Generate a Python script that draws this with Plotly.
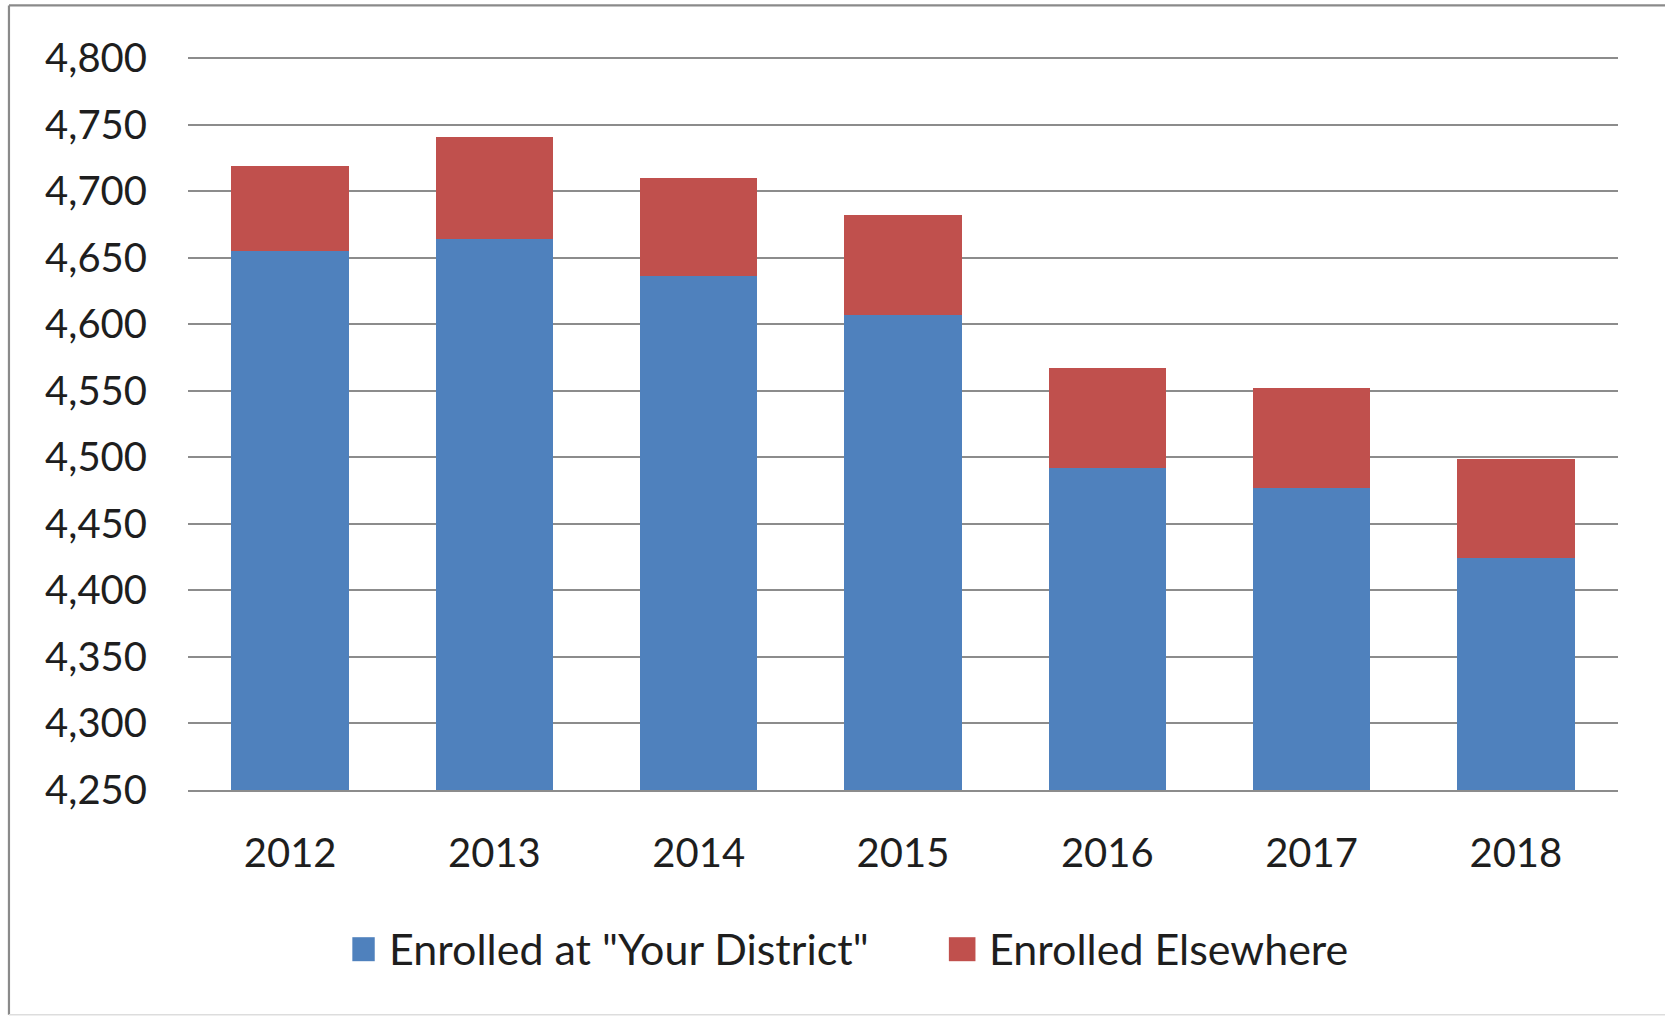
import plotly.graph_objects as go

years = ["2012", "2013", "2014", "2015", "2016", "2017", "2018"]
district = [4655, 4664, 4636, 4607, 4492, 4477, 4424]
elsewhere = [64, 77, 74, 75, 75, 75, 75]
y_ticks = [4250, 4300, 4350, 4400, 4450, 4500, 4550, 4600, 4650, 4700, 4750, 4800]
series_names = ['Enrolled at "Your District"', "Enrolled Elsewhere"]

BLUE = "#4F81BD"
RED = "#C0504D"
FONT = "Lato"
TXT = "#1e1e1e"
GRID = "#8c8c8c"

fig = go.Figure()
fig.add_trace(go.Bar(x=years, y=district, name=series_names[0],
                     marker=dict(color=BLUE, line=dict(width=0))))
fig.add_trace(go.Bar(x=years, y=elsewhere, name=series_names[1],
                     marker=dict(color=RED, line=dict(width=0))))

# pixel geometry: 4800 gridline at y=58.3, 4250 gridline at y=790.3
Y_LO, Y_HI, PAD = 4250, 4800, 3
scale = (790.3 - 58.3) / (Y_HI - Y_LO)
L, R = 188.3, 1618.0
T = 58.3 - PAD * scale
B = 790.3
W, H = 1665, 1016
pw, ph = R - L, B - T

def px(x):
    return (x - L) / pw

def py(y):
    return (B - y) / ph

legend_items = [
    (series_names[0], BLUE, 352.6, 375.0, 387.7),
    (series_names[1], RED, 949.0, 975.6, 987.5),
]
shapes = [
    dict(type="line", xref="paper", yref="paper", x0=px(9.3), x1=px(1670), y0=py(5.7), y1=py(5.7),
         line=dict(color="#8a8a8a", width=2.2)),
    dict(type="line", xref="paper", yref="paper", x0=px(9.3), x1=px(9.3), y0=py(5.7), y1=py(1015),
         line=dict(color="#8a8a8a", width=2.2)),
    dict(type="line", xref="paper", yref="paper", x0=px(9.3), x1=px(1670), y0=py(1015), y1=py(1015),
         line=dict(color="#dddddd", width=1.5)),
]
annotations = []
for name, col, sx0, sx1, tx in legend_items:
    shapes.append(dict(type="rect", xref="paper", yref="paper", x0=px(sx0), x1=px(sx1),
                       y0=py(937.5), y1=py(961.5), fillcolor=col, line=dict(width=0)))
    annotations.append(dict(text=name, xref="paper", yref="paper", x=px(tx), y=py(949),
                            xanchor="left", yanchor="middle", showarrow=False,
                            font=dict(family=FONT, size=43, color=TXT)))

fig.update_layout(
    width=W, height=H,
    margin=dict(l=L, r=W - R, t=T, b=H - B, pad=0),
    barmode="stack",
    bargap=0.425,
    plot_bgcolor="white",
    paper_bgcolor="white",
    font=dict(family=FONT, size=40, color=TXT),
    showlegend=False,
    xaxis=dict(showgrid=False, showline=True, linecolor=GRID, linewidth=1.6,
               ticks="", zeroline=False,
               tickfont=dict(family=FONT, size=40, color=TXT), ticklabelstandoff=27),
    yaxis=dict(range=[Y_LO, Y_HI + PAD], tickvals=y_ticks, tickformat=",d",
               showgrid=True, gridcolor=GRID, gridwidth=1.6, showline=False,
               zeroline=False, ticks="", tickfont=dict(family=FONT, size=40, color=TXT),
               ticklabelstandoff=40),
    shapes=shapes,
    annotations=annotations,
)

fig.write_html("out.html")
